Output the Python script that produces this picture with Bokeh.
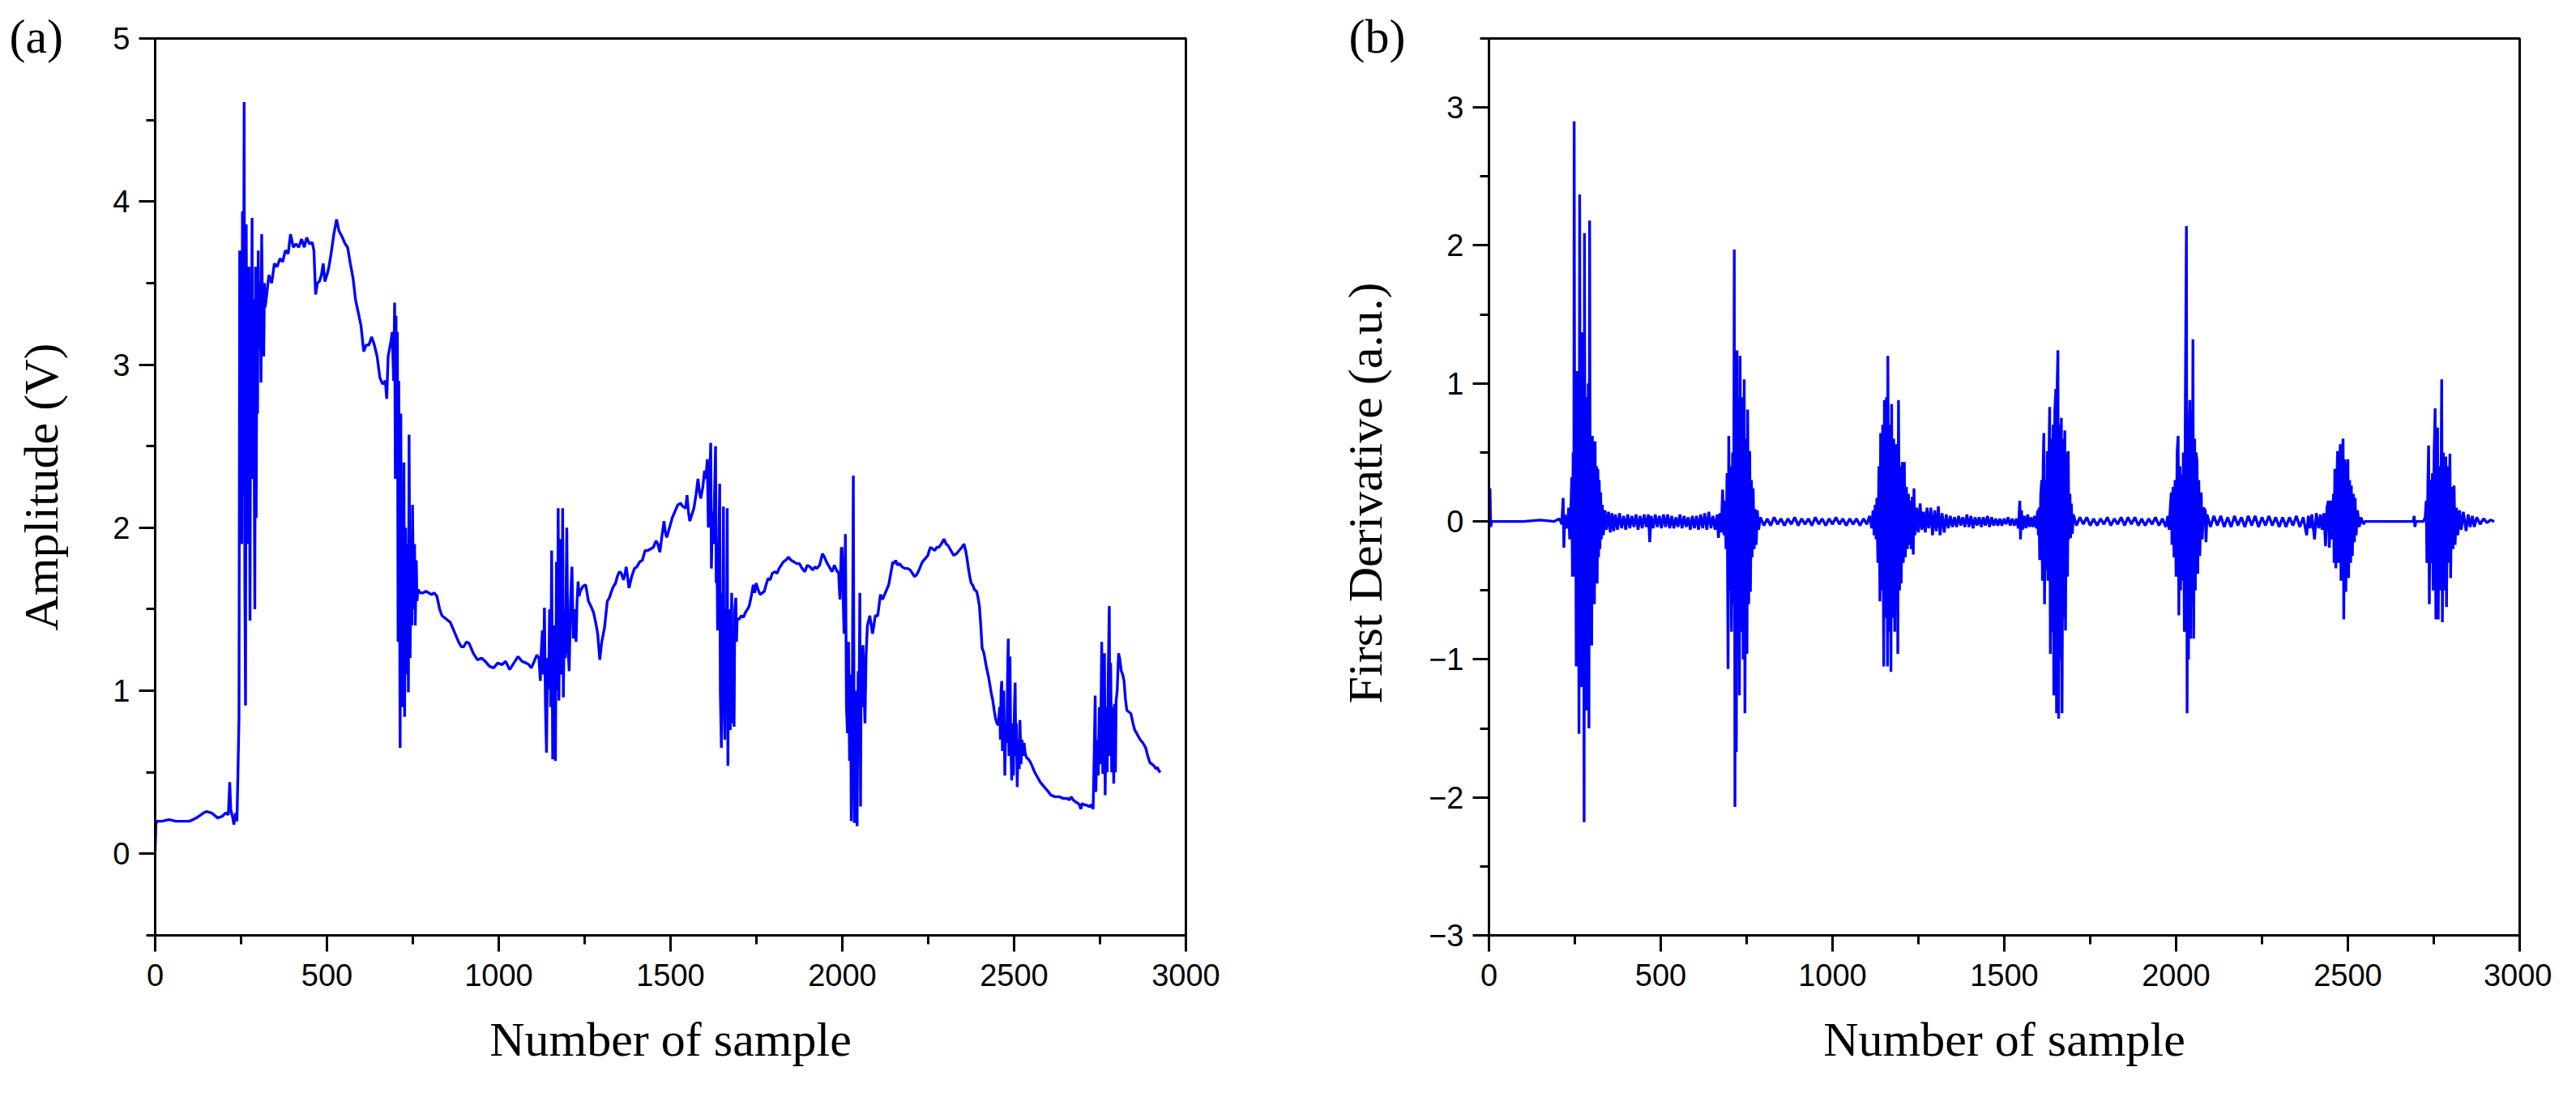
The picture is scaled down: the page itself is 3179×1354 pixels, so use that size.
from bokeh.plotting import figure
from bokeh.layouts import row
from bokeh.models import Range1d, SingleIntervalTicker, Title, CustomJSTickFormatter
from bokeh.embed import file_html
from bokeh.resources import INLINE

# ---------------- data ----------------
x_ticks_interval = 500
amp_range = (-0.5, 5)
der_range = (-3, 3.5)

# (a) amplitude signal: (sample, volts)
amplitude_points = [
    (0, 0.02), (2, 0.18), (5, 0.2), (20, 0.2), (40, 0.21), (60, 0.2), (80, 0.2), (100, 0.2),
    (120, 0.22), (140, 0.25), (150, 0.26), (165, 0.25), (182, 0.22), (195, 0.23), (205, 0.25),
    (213, 0.24), (217, 0.44), (220, 0.27), (226, 0.22), (229, 0.18), (234, 0.25), (238, 0.2),
    (241, 0.5), (244, 0.84),
    (246, 3.7), (248, 2.6), (250, 3.6), (252, 1.9), (254, 3.94), (256, 2.2), (259, 4.61),
    (261, 1.67), (263, 0.91), (265, 3.86), (267, 2.7), (269, 3.5), (271, 1.9), (273, 3.6),
    (276, 1.43), (278, 3.3), (280, 2.8), (282, 3.9), (284, 2.3), (286, 3.4), (288, 2.6),
    (290, 1.5), (292, 3.6), (294, 2.06), (296, 3.3), (298, 2.7), (300, 3.7), (303, 3.1),
    (306, 3.5), (308, 2.89), (310, 3.8), (313, 3.2), (316, 3.05), (318, 3.5), (320, 3.35),
    (323, 3.4), (331, 3.55), (339, 3.5), (347, 3.62), (355, 3.6), (363, 3.65), (371, 3.63),
    (379, 3.7), (387, 3.68), (394, 3.8), (402, 3.72), (410, 3.74), (418, 3.72), (426, 3.77),
    (434, 3.72), (441, 3.78), (449, 3.74), (457, 3.75), (462, 3.7), (467, 3.43), (472, 3.5),
    (478, 3.51), (484, 3.55), (489, 3.62), (494, 3.51), (500, 3.55), (505, 3.59), (512, 3.68),
    (520, 3.8), (528, 3.89), (535, 3.82), (545, 3.78), (553, 3.74), (560, 3.72), (568, 3.62),
    (576, 3.53), (583, 3.4), (591, 3.32), (599, 3.24), (607, 3.08), (614, 3.12), (622, 3.12),
    (630, 3.17), (638, 3.12), (646, 3.05), (654, 2.92), (662, 2.88), (670, 2.9), (674, 2.79),
    (678, 3.05), (686, 3.14), (690, 3.2), (694, 2.9), (697, 3.38),
    (699, 2.3), (701, 3.3), (703, 2.5), (705, 3.2), (707, 1.3), (709, 2.9), (711, 1.8),
    (713, 0.65), (715, 2.7), (717, 1.2), (719, 2.2), (721, 0.9), (724, 2.4), (726, 0.84),
    (729, 2.0), (732, 1.1), (735, 1.9), (737, 0.99), (739, 2.57), (742, 1.2), (745, 1.9),
    (747, 1.4), (749, 2.14), (752, 1.5), (755, 1.9), (757, 1.4), (760, 1.8), (762, 1.55),
    (765, 1.62),
    (772, 1.6), (780, 1.6), (788, 1.61), (796, 1.6), (804, 1.59), (812, 1.6), (820, 1.58),
    (828, 1.5), (835, 1.46), (847, 1.44), (859, 1.42), (871, 1.36), (883, 1.3), (891, 1.27),
    (898, 1.27), (906, 1.3), (914, 1.29), (926, 1.23), (938, 1.19), (950, 1.2), (961, 1.18),
    (973, 1.15), (985, 1.14), (997, 1.17), (1009, 1.16), (1020, 1.18), (1032, 1.13),
    (1044, 1.17), (1056, 1.21), (1068, 1.18), (1080, 1.17), (1088, 1.16), (1095, 1.14),
    (1103, 1.18), (1111, 1.22), (1117, 1.2), (1121, 1.06), (1123, 1.21),
    (1127, 1.37), (1130, 1.1), (1133, 1.51), (1136, 0.9), (1139, 0.62), (1142, 1.2),
    (1145, 1.01), (1148, 1.5), (1151, 0.9), (1154, 1.86), (1157, 0.58), (1160, 1.4),
    (1163, 0.8), (1165, 0.57), (1168, 1.79), (1171, 1.0), (1173, 2.12), (1175, 0.94),
    (1178, 1.6), (1181, 1.93), (1183, 1.1), (1186, 2.12), (1188, 0.96), (1191, 1.5),
    (1194, 1.2), (1198, 2.0), (1201, 1.3), (1205, 1.12), (1209, 1.55), (1213, 1.76),
    (1217, 1.32), (1221, 1.5), (1225, 1.3), (1228, 1.55), (1231, 1.67), (1234, 1.58),
    (1237, 1.61), (1245, 1.64), (1253, 1.65), (1261, 1.55), (1268, 1.52), (1276, 1.48),
    (1282, 1.42), (1288, 1.35), (1294, 1.19), (1297, 1.25), (1300, 1.3), (1308, 1.39),
    (1316, 1.55), (1322, 1.57), (1328, 1.61), (1334, 1.64), (1340, 1.66), (1345, 1.7),
    (1351, 1.73), (1357, 1.72), (1363, 1.68), (1367, 1.71), (1371, 1.76), (1375, 1.7),
    (1379, 1.63), (1387, 1.7), (1395, 1.75), (1402, 1.76), (1410, 1.79), (1418, 1.8),
    (1426, 1.86), (1434, 1.86), (1442, 1.87), (1450, 1.88), (1458, 1.92), (1463, 1.9),
    (1469, 1.85), (1475, 1.95), (1481, 2.04), (1485, 1.97), (1489, 1.94), (1497, 2.0),
    (1505, 2.06), (1513, 2.1), (1521, 2.14), (1529, 2.15), (1536, 2.13), (1544, 2.12),
    (1548, 2.2), (1552, 2.1), (1556, 2.04), (1562, 2.08), (1568, 2.12), (1574, 2.2),
    (1580, 2.3), (1584, 2.22), (1588, 2.18), (1594, 2.25), (1599, 2.35), (1603, 2.3),
    (1607, 2.42),
    (1610, 2.0), (1614, 2.3), (1617, 2.52), (1619, 1.75), (1622, 2.1), (1625, 1.9),
    (1628, 2.2), (1631, 2.5), (1633, 1.66), (1635, 1.9), (1637, 1.37), (1640, 1.8),
    (1643, 2.27), (1645, 0.99), (1648, 0.65), (1650, 1.6), (1652, 1.0), (1654, 2.13),
    (1656, 0.9), (1658, 0.7), (1660, 1.5), (1662, 0.9), (1665, 2.12), (1667, 0.54),
    (1669, 1.2), (1672, 1.5), (1674, 0.76), (1676, 1.3), (1678, 1.6), (1680, 0.8),
    (1682, 1.3), (1685, 0.78), (1687, 1.5), (1690, 1.57), (1692, 1.3), (1694, 1.44),
    (1700, 1.44), (1706, 1.46), (1712, 1.45), (1718, 1.48), (1724, 1.5), (1729, 1.52),
    (1735, 1.58), (1741, 1.65), (1745, 1.6), (1749, 1.66), (1755, 1.62), (1761, 1.59),
    (1767, 1.6), (1773, 1.61), (1778, 1.65), (1784, 1.69), (1790, 1.68), (1796, 1.72),
    (1804, 1.73), (1810, 1.72), (1816, 1.75), (1822, 1.77), (1828, 1.79), (1835, 1.8),
    (1843, 1.82), (1851, 1.8), (1859, 1.79), (1867, 1.78), (1875, 1.78), (1883, 1.75),
    (1891, 1.73), (1898, 1.77), (1906, 1.76), (1914, 1.74), (1920, 1.76), (1926, 1.75),
    (1934, 1.77), (1942, 1.84), (1948, 1.82), (1954, 1.79), (1962, 1.76), (1970, 1.73),
    (1977, 1.77), (1985, 1.73), (1989, 1.73), (1993, 1.56), (1997, 1.87), (1999, 1.88),
    (2002, 1.6), (2005, 1.35), (2009, 1.96),
    (2012, 0.9), (2015, 0.74), (2018, 1.3), (2021, 0.57), (2024, 1.1), (2026, 0.2),
    (2029, 0.9), (2032, 2.32), (2035, 0.19), (2038, 1.0), (2041, 0.6), (2043, 0.17),
    (2046, 1.12), (2048, 0.7), (2051, 1.6), (2053, 0.29), (2055, 1.26), (2058, 0.9),
    (2060, 1.28), (2063, 1.0), (2066, 0.8), (2069, 1.21), (2073, 1.4),
    (2080, 1.46), (2088, 1.35), (2096, 1.46), (2103, 1.46), (2111, 1.59), (2117, 1.56),
    (2123, 1.59), (2129, 1.62), (2135, 1.65), (2141, 1.72), (2147, 1.79), (2151, 1.78),
    (2155, 1.8), (2161, 1.77), (2166, 1.78), (2174, 1.76), (2182, 1.75), (2190, 1.75),
    (2198, 1.74), (2204, 1.72), (2210, 1.7), (2216, 1.71), (2221, 1.73), (2227, 1.76),
    (2233, 1.79), (2241, 1.81), (2249, 1.83), (2253, 1.86), (2257, 1.88), (2263, 1.87),
    (2269, 1.86), (2275, 1.88), (2281, 1.88), (2288, 1.9), (2296, 1.93), (2302, 1.9),
    (2308, 1.89), (2316, 1.86), (2324, 1.83), (2332, 1.84), (2340, 1.86), (2348, 1.88),
    (2354, 1.9), (2359, 1.86), (2363, 1.81), (2367, 1.75), (2371, 1.7), (2375, 1.66),
    (2379, 1.65), (2385, 1.62), (2391, 1.61), (2395, 1.57), (2399, 1.52), (2403, 1.4),
    (2407, 1.26), (2411, 1.24), (2414, 1.21), (2418, 1.16), (2422, 1.12), (2426, 1.08),
    (2430, 1.03), (2434, 0.98), (2438, 0.94), (2442, 0.88), (2446, 0.83), (2450, 0.8),
    (2454, 0.79),
    (2458, 0.9), (2460, 0.7), (2462, 1.0), (2464, 1.06), (2466, 0.63), (2468, 0.9),
    (2470, 1.0), (2473, 0.48), (2476, 0.8), (2479, 0.68), (2481, 1.1), (2483, 1.32),
    (2485, 0.6), (2488, 1.21), (2490, 0.7), (2493, 0.45), (2496, 0.8), (2498, 0.48),
    (2501, 0.9), (2503, 1.05), (2505, 0.6), (2507, 0.8), (2509, 0.41), (2512, 0.7),
    (2515, 0.52), (2517, 0.82), (2520, 0.55), (2523, 0.7), (2526, 0.6), (2529, 0.68),
    (2532, 0.62),
    (2536, 0.59), (2542, 0.58), (2548, 0.56), (2554, 0.53), (2560, 0.5), (2568, 0.47),
    (2576, 0.44), (2584, 0.42), (2592, 0.4), (2600, 0.38), (2607, 0.36), (2619, 0.35),
    (2631, 0.35), (2643, 0.34), (2655, 0.34), (2661, 0.33), (2666, 0.35), (2672, 0.33),
    (2678, 0.32), (2686, 0.31), (2690, 0.3), (2694, 0.275), (2698, 0.31), (2704, 0.3),
    (2710, 0.3), (2718, 0.29), (2725, 0.3), (2730, 0.275),
    (2733, 0.6), (2736, 0.97), (2738, 0.38), (2741, 0.7), (2745, 0.48), (2748, 0.9),
    (2751, 0.55), (2755, 1.3), (2758, 0.49), (2761, 1.1), (2763, 1.23), (2765, 0.36),
    (2768, 0.9), (2771, 0.5), (2774, 1.1), (2777, 1.52), (2779, 0.6), (2781, 1.17),
    (2784, 0.5), (2787, 0.9), (2790, 0.43), (2792, 0.92), (2795, 0.5), (2797, 0.94),
    (2800, 1.0), (2804, 1.23), (2808, 1.19),
    (2812, 1.12), (2816, 1.1), (2820, 1.06), (2824, 0.95), (2828, 0.88), (2834, 0.87),
    (2840, 0.86), (2846, 0.8), (2851, 0.76), (2859, 0.73), (2867, 0.7), (2875, 0.68),
    (2883, 0.65), (2889, 0.6), (2895, 0.56), (2901, 0.55), (2907, 0.54), (2913, 0.52),
    (2917, 0.53), (2921, 0.51), (2926, 0.5),
]

# (b) first derivative: (sample, a.u.)
derivative_points = [
    (0, 0.0), (3, 0.24), (5, -0.04), (8, 0.0), (50, 0.0), (100, 0.0), (150, 0.01), (190, 0.0),
    (205, 0.02), (212, -0.02), (216, 0.17), (218, -0.19), (221, 0.05), (228, -0.05),
    (232, 0.1), (235, -0.13), (238, 0.05),
    (241, 0.32), (243, -0.4), (245, 0.5), (247, -0.3), (248, 2.9), (250, -0.4), (252, 0.8),
    (254, -1.05), (256, 1.09), (258, -0.6), (260, 0.9), (262, -1.54), (264, 2.37),
    (266, -0.5), (268, 0.7), (270, -1.2), (271, 1.37), (273, -0.6), (275, 0.8), (277, -2.18),
    (278, 2.09), (280, -0.5), (282, 0.9), (283, -1.37), (285, 0.43), (287, -0.8), (289, 1.0),
    (291, -1.5), (293, 2.18), (295, -0.5), (297, 0.6), (299, -0.9), (301, 0.62), (303, -0.41),
    (305, 0.5), (307, -0.6), (309, 0.58), (311, -0.35), (313, 0.4), (315, -0.45), (317, 0.38),
    (319, -0.26), (321, 0.3), (323, -0.2), (325, 0.21), (327, -0.13), (330, 0.12), (333, -0.1),
    (338, 0.08), (342, -0.06), (348, 0.07), (353, -0.08), (358, 0.06), (363, -0.07),
    (368, 0.05), (374, -0.06), (380, 0.06), (386, -0.05), (392, 0.04), (398, -0.06),
    (404, 0.05), (410, -0.05), (416, 0.04), (422, -0.04), (428, 0.05), (434, -0.06),
    (440, 0.04), (446, -0.05), (452, 0.05), (458, -0.04), (464, 0.05), (468, -0.15),
    (472, 0.04), (478, -0.05), (484, 0.05), (490, -0.04), (496, 0.04), (502, -0.05),
    (508, 0.05), (514, -0.04), (520, 0.05), (526, -0.05), (532, 0.04), (538, -0.05),
    (544, 0.03), (550, -0.04), (556, 0.05), (562, -0.05), (568, 0.04), (574, -0.04),
    (580, 0.03), (586, -0.06), (592, 0.04), (598, -0.05), (604, 0.04), (610, -0.06),
    (616, 0.05), (622, -0.05), (628, 0.06), (634, -0.06), (640, 0.07), (646, -0.05),
    (652, 0.04), (658, -0.06), (664, 0.05), (668, -0.12), (672, 0.06), (676, -0.08),
    (680, 0.23), (684, -0.1), (687, 0.15),
    (690, -0.2), (693, 0.35), (696, -1.07), (698, 0.62), (700, -0.5), (703, 0.4), (706, -0.8),
    (709, 0.5), (712, -0.6), (714, 1.97), (716, -2.07), (718, 1.0), (720, -1.67), (722, 1.24),
    (724, -0.9), (727, 0.9), (729, -1.26), (731, 1.2), (734, -0.8), (737, 0.9), (740, -1.0),
    (743, 1.03), (745, -1.39), (748, 0.6), (751, -0.96), (753, 0.81), (756, -0.6), (759, 0.51),
    (761, -0.51), (764, 0.3), (766, -0.26), (769, 0.24), (772, -0.2), (775, 0.09),
    (778, -0.17), (781, 0.08), (785, -0.06),
    (790, 0.03), (800, -0.03), (810, 0.02), (820, -0.03), (830, 0.03), (840, -0.02),
    (850, 0.02), (860, -0.03), (870, 0.02), (880, -0.02), (890, 0.03), (900, -0.03),
    (910, 0.02), (920, -0.02), (930, 0.02), (940, -0.03), (950, 0.03), (960, -0.02),
    (970, 0.02), (980, -0.03), (990, 0.02), (1000, -0.02), (1010, 0.03), (1020, -0.02),
    (1030, 0.02), (1040, -0.03), (1050, 0.02), (1060, -0.02), (1070, 0.02), (1080, -0.03),
    (1090, 0.02), (1100, -0.02), (1108, 0.04), (1114, -0.05), (1118, 0.08), (1121, -0.1),
    (1124, 0.12), (1127, -0.13), (1129, 0.17), (1132, -0.3), (1135, 0.4), (1138, -0.58),
    (1140, 0.64), (1143, -0.5), (1146, 0.7), (1149, -1.05), (1151, 0.88), (1154, -0.7),
    (1157, 0.9), (1160, -1.05), (1161, 1.2), (1164, -0.8), (1167, 0.7), (1170, -1.09),
    (1172, 0.85), (1175, -0.7), (1178, 0.6), (1181, -0.8), (1184, 0.56), (1186, -0.62),
    (1188, 0.5), (1190, -0.96), (1192, 0.88), (1195, -0.5), (1198, 0.4), (1200, -0.45),
    (1203, 0.43), (1206, -0.3), (1209, 0.43), (1212, -0.26), (1215, 0.25), (1218, -0.2),
    (1221, 0.2), (1223, -0.17), (1226, 0.15), (1229, -0.2), (1232, 0.18), (1235, -0.24),
    (1237, 0.24), (1240, -0.1),
    (1245, 0.1), (1250, -0.08), (1255, 0.13), (1260, -0.06), (1265, 0.07), (1270, -0.08),
    (1275, 0.1), (1280, -0.05), (1286, 0.1), (1291, -0.1), (1297, 0.08), (1302, -0.07),
    (1308, 0.11), (1313, -0.1), (1319, 0.06), (1325, -0.08), (1331, 0.05), (1337, -0.05),
    (1343, 0.04), (1349, -0.04), (1355, 0.03), (1361, -0.04), (1367, 0.04), (1373, -0.03),
    (1379, 0.03), (1385, -0.04), (1391, 0.05), (1397, -0.04), (1403, 0.04), (1409, -0.05),
    (1415, 0.03), (1421, -0.03), (1427, 0.03), (1433, -0.04), (1439, 0.03), (1445, -0.03),
    (1451, 0.04), (1457, -0.04), (1463, 0.03), (1469, -0.03), (1475, 0.02), (1481, -0.03),
    (1487, 0.02), (1493, -0.03), (1499, 0.02), (1505, -0.02), (1511, 0.03), (1517, -0.03),
    (1523, 0.02), (1529, -0.03), (1535, 0.02), (1541, -0.05), (1545, 0.15), (1547, -0.13),
    (1550, 0.08), (1553, -0.06), (1558, 0.04), (1563, -0.05), (1568, 0.05), (1573, -0.04),
    (1578, 0.03), (1583, -0.04), (1588, 0.04), (1593, -0.05), (1597, 0.08),
    (1599, -0.1), (1601, 0.1), (1603, -0.28), (1606, 0.2), (1609, 0.3), (1611, -0.43),
    (1613, 0.4), (1615, 0.64), (1617, -0.6), (1620, 0.3), (1622, -0.35), (1625, 0.51),
    (1627, -0.43), (1630, 0.5), (1632, 0.83), (1634, -0.96), (1637, 0.6), (1639, -0.8),
    (1642, 0.7), (1644, -1.26), (1647, 0.8), (1650, 0.96), (1652, -1.39), (1654, 1.0),
    (1656, 1.24), (1658, -1.43), (1661, 0.7), (1664, -1.0), (1666, 0.75), (1668, -1.39),
    (1671, 0.6), (1674, -0.7), (1676, 0.66), (1678, -0.79), (1681, 0.5), (1684, -0.4),
    (1686, 0.51), (1688, -0.13), (1691, 0.2), (1693, -0.12), (1695, 0.13), (1698, -0.09),
    (1701, 0.05),
    (1710, -0.03), (1720, 0.03), (1730, -0.02), (1740, 0.03), (1750, -0.03), (1760, 0.02),
    (1770, -0.03), (1780, 0.02), (1790, -0.02), (1800, 0.03), (1810, -0.03), (1820, 0.02),
    (1830, -0.02), (1840, 0.03), (1850, -0.03), (1860, 0.03), (1870, -0.02), (1880, 0.03),
    (1890, -0.03), (1900, 0.02), (1910, -0.03), (1920, 0.02), (1930, -0.02), (1940, 0.03),
    (1950, -0.03), (1960, 0.02), (1970, -0.04), (1976, 0.04), (1980, -0.06),
    (1983, 0.1), (1986, 0.21), (1988, -0.17), (1991, 0.25), (1994, -0.26), (1997, 0.3),
    (2000, -0.4), (2003, 0.5), (2006, 0.62), (2008, -0.68), (2011, 0.4), (2013, -0.5),
    (2016, 0.34), (2018, -0.43), (2021, 0.5), (2024, -0.8), (2027, 0.9), (2030, 2.14),
    (2032, -1.39), (2034, 0.7), (2036, -1.0), (2038, 0.6), (2040, 0.88), (2042, -0.85),
    (2045, 0.8), (2047, -0.6), (2049, 1.32), (2051, -0.85), (2054, 0.6), (2056, -0.5),
    (2058, 0.5), (2061, 0.43), (2063, -0.38), (2066, 0.3), (2069, -0.25), (2073, 0.21),
    (2076, -0.13), (2080, 0.1), (2085, 0.08), (2087, -0.15), (2090, 0.05),
    (2100, -0.04), (2110, 0.04), (2120, -0.03), (2130, 0.04), (2140, -0.04), (2150, 0.03),
    (2160, -0.04), (2170, 0.04), (2180, -0.03), (2190, 0.03), (2200, -0.04), (2210, 0.04),
    (2220, -0.03), (2230, 0.04), (2240, -0.04), (2250, 0.03), (2260, -0.03), (2270, 0.04),
    (2280, -0.03), (2290, 0.03), (2300, -0.04), (2310, 0.03), (2320, -0.04), (2330, 0.03),
    (2340, -0.03), (2350, 0.04), (2360, -0.04), (2370, 0.03), (2380, -0.1), (2385, 0.04),
    (2390, -0.05), (2395, 0.05), (2403, -0.13), (2408, 0.06), (2415, -0.05), (2420, 0.05),
    (2425, -0.06), (2430, 0.06),
    (2435, -0.18), (2439, 0.1), (2443, 0.15), (2446, -0.19), (2449, 0.12), (2451, 0.15),
    (2454, -0.13), (2458, 0.2), (2460, -0.3), (2462, 0.38), (2465, -0.34), (2468, 0.3),
    (2470, 0.51), (2473, -0.3), (2476, 0.4), (2478, 0.56), (2480, -0.43), (2483, 0.45),
    (2486, 0.6), (2488, -0.71), (2491, 0.45), (2494, -0.51), (2497, 0.3), (2500, 0.45),
    (2502, -0.41), (2505, 0.3), (2508, -0.3), (2510, 0.26), (2513, -0.25), (2516, 0.2),
    (2519, -0.15), (2521, 0.17), (2524, -0.1), (2528, 0.08), (2533, -0.04), (2538, 0.03),
    (2545, -0.02), (2550, 0.0),
    (2600, 0.0), (2650, 0.0), (2690, 0.0), (2693, 0.04), (2695, -0.04), (2698, 0.0),
    (2720, 0.0), (2725, 0.03),
    (2728, 0.15), (2730, -0.3), (2733, 0.3), (2735, 0.55), (2737, -0.6), (2740, 0.3),
    (2743, -0.3), (2746, 0.35), (2748, -0.5), (2751, 0.5), (2754, 0.82), (2756, -0.71),
    (2759, 0.5), (2761, 0.68), (2763, -0.71), (2766, 0.4), (2769, -0.5), (2773, 1.03),
    (2775, -0.73), (2778, 0.5), (2781, -0.5), (2785, 0.47), (2787, -0.62), (2790, 0.4),
    (2793, -0.3), (2797, 0.49), (2799, -0.41), (2802, 0.25), (2806, -0.2), (2809, 0.26),
    (2812, -0.17), (2816, 0.1), (2820, -0.1), (2825, 0.08), (2830, -0.06), (2836, 0.07),
    (2844, -0.07), (2850, 0.05), (2856, -0.04), (2862, 0.04), (2868, -0.04), (2875, 0.03),
    (2885, -0.02), (2895, 0.02), (2905, -0.01), (2915, 0.01), (2926, 0.0),
]

panel_labels = ["(a)", "(b)"]
x_title = "Number of sample"
y_titles = ["Amplitude (V)", "First  Derivative (a.u.)"]

# ---------------- styling ----------------
SERIF = "Liberation Serif"
SANS = "Liberation Sans"
BLUE = "#0000ff"
FRAME_W = 1272
FRAME_H = 1107

minus_fmt = CustomJSTickFormatter(code="return tick < 0 ? '\\u2212' + (-tick) : '' + tick;")


def make_panel(points, yr, ytitle, ytitle_standoff, label, label_dx, border_left, border_right):
    p = figure(frame_width=FRAME_W, frame_height=FRAME_H,
               x_range=Range1d(0, 3000), y_range=Range1d(*yr),
               output_backend="svg", toolbar_location=None,
               min_border_left=border_left, min_border_right=border_right,
               min_border_top=47, min_border_bottom=150,
               background_fill_color="white", border_fill_color="white")
    xs = [pt[0] for pt in points]
    ys = [pt[1] for pt in points]
    p.line(xs, ys, line_color=BLUE, line_width=3.4)

    p.xgrid.visible = False
    p.ygrid.visible = False
    p.outline_line_color = "black"
    p.outline_line_width = 3

    p.xaxis.ticker = SingleIntervalTicker(interval=x_ticks_interval, num_minor_ticks=2)
    p.yaxis.ticker = SingleIntervalTicker(interval=1, num_minor_ticks=2)
    p.yaxis.formatter = minus_fmt

    for ax in (p.xaxis[0], p.yaxis[0]):
        ax.axis_line_width = 3
        ax.axis_line_color = "black"
        ax.major_tick_line_width = 3
        ax.minor_tick_line_width = 3
        ax.major_tick_out = 20
        ax.major_tick_in = 0
        ax.minor_tick_out = 11
        ax.minor_tick_in = 0
        ax.major_label_text_font = SANS
        ax.major_label_text_font_size = "38px"
        ax.major_label_text_color = "black"
        ax.axis_label_text_font = SERIF
        ax.axis_label_text_font_style = "normal"
        ax.axis_label_text_color = "black"
        ax.axis_label_text_font_size = "60px"

    p.xaxis.axis_label = x_title
    p.xaxis.major_label_standoff = 15
    p.xaxis.axis_label_standoff = 30
    p.yaxis.axis_label = ytitle
    p.yaxis.major_label_standoff = 11
    p.yaxis.axis_label_standoff = ytitle_standoff

    # panel letter left of / level with the frame's top-left corner
    p.add_layout(Title(text=label, align="left", offset=label_dx, standoff=-60,
                       vertical_align="bottom", text_font=SERIF, text_font_size="60px",
                       text_font_style="normal", text_color="black"), "above")
    return p


p1 = make_panel(amplitude_points, amp_range, y_titles[0], 52, panel_labels[0], -180, 191, 172)
p2 = make_panel(derivative_points, der_range, y_titles[1], 42, panel_labels[1], -173, 202, 40)

layout = row(p1, p2)
open("out.html", "w").write(file_html(layout, INLINE))
